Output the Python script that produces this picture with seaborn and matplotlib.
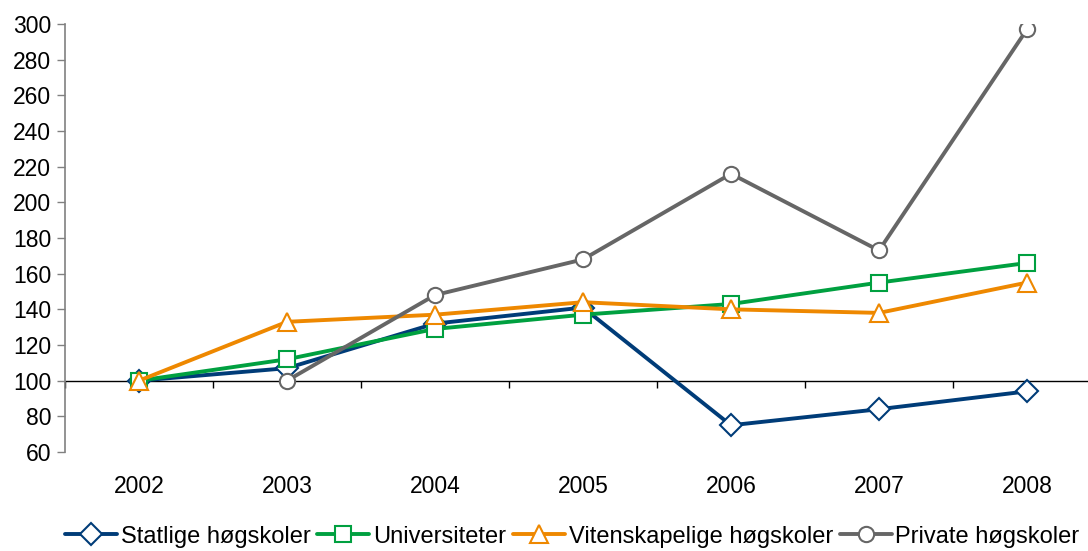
import pandas as pd
import numpy as np
import seaborn as sns
import matplotlib.pyplot as plt

years = ["2002", "2003", "2004", "2005", "2006", "2007", "2008"]
statlige = [100, 107, 132, 141, 75, 84, 94]
universiteter = [100, 112, 129, 137, 143, 155, 166]
vitenskapelige = [100, 133, 137, 144, 140, 138, 155]
private = [np.nan, 100, 148, 168, 216, 173, 297]

series = [
    ("Statlige høgskoler", statlige, "#003c78", "D"),
    ("Universiteter", universiteter, "#00a040", "s"),
    ("Vitenskapelige høgskoler", vitenskapelige, "#ee8800", "^"),
    ("Private høgskoler", private, "#666666", "o"),
]

sns.set_style("white")
plt.rcParams['font.family'] = ['Liberation Sans', 'DejaVu Sans']
plt.rcParams['text.color'] = 'black'
plt.rcParams['ytick.labelcolor'] = 'black'

fig = plt.figure(figsize=(10.88, 5.51), dpi=100)
ax = fig.add_axes([65 / 1088, 1 - 452 / 551, 1036 / 1088, 428 / 551])

for name, vals, color, mk in series:
    df = pd.DataFrame({"x": range(len(years)), "y": vals})
    sns.lineplot(data=df, x="x", y="y", ax=ax, color=color, linewidth=2.8,
                 marker=mk, markersize=11 if mk != "^" else 13,
                 markerfacecolor="white", markeredgecolor=color,
                 markeredgewidth=1.5, label=name)

ax.set_xlim(-0.5, 6.5)
ax.set_ylim(60, 300)
ax.set_yticks(range(60, 301, 20))
ax.tick_params(axis="y", labelsize=16.5, length=6, width=1, color="#808080",
               labelcolor="black", left=True, pad=4)
ax.set_xlabel("")
ax.set_ylabel("")

for s in ["top", "right"]:
    ax.spines[s].set_visible(False)
ax.spines["left"].set_color("#808080")
ax.spines["left"].set_linewidth(1.2)
ax.spines["bottom"].set_position(("data", 100))
ax.spines["bottom"].set_color("black")
ax.spines["bottom"].set_linewidth(1)
ax.spines["bottom"].set_zorder(0.5)
ax.set_xticks(np.arange(-0.5, 7, 1))
ax.set_xticklabels([])
ax.tick_params(axis="x", bottom=True, length=5, width=1, color="black")

for i, y in enumerate(years):
    ax.text(i, -0.08, y, transform=ax.get_xaxis_transform(), ha="center",
            va="center", fontsize=16.5, color="black")

ax.get_legend().remove()
handles, labels = ax.get_legend_handles_labels()
fig.legend(handles, labels, loc="lower center", bbox_to_anchor=(0.526, -0.028),
           ncol=4, frameon=False, fontsize=17, handlelength=2.2,
           handletextpad=0.15, columnspacing=0.3, borderpad=0.3)

fig.savefig("out.png", dpi=100)
